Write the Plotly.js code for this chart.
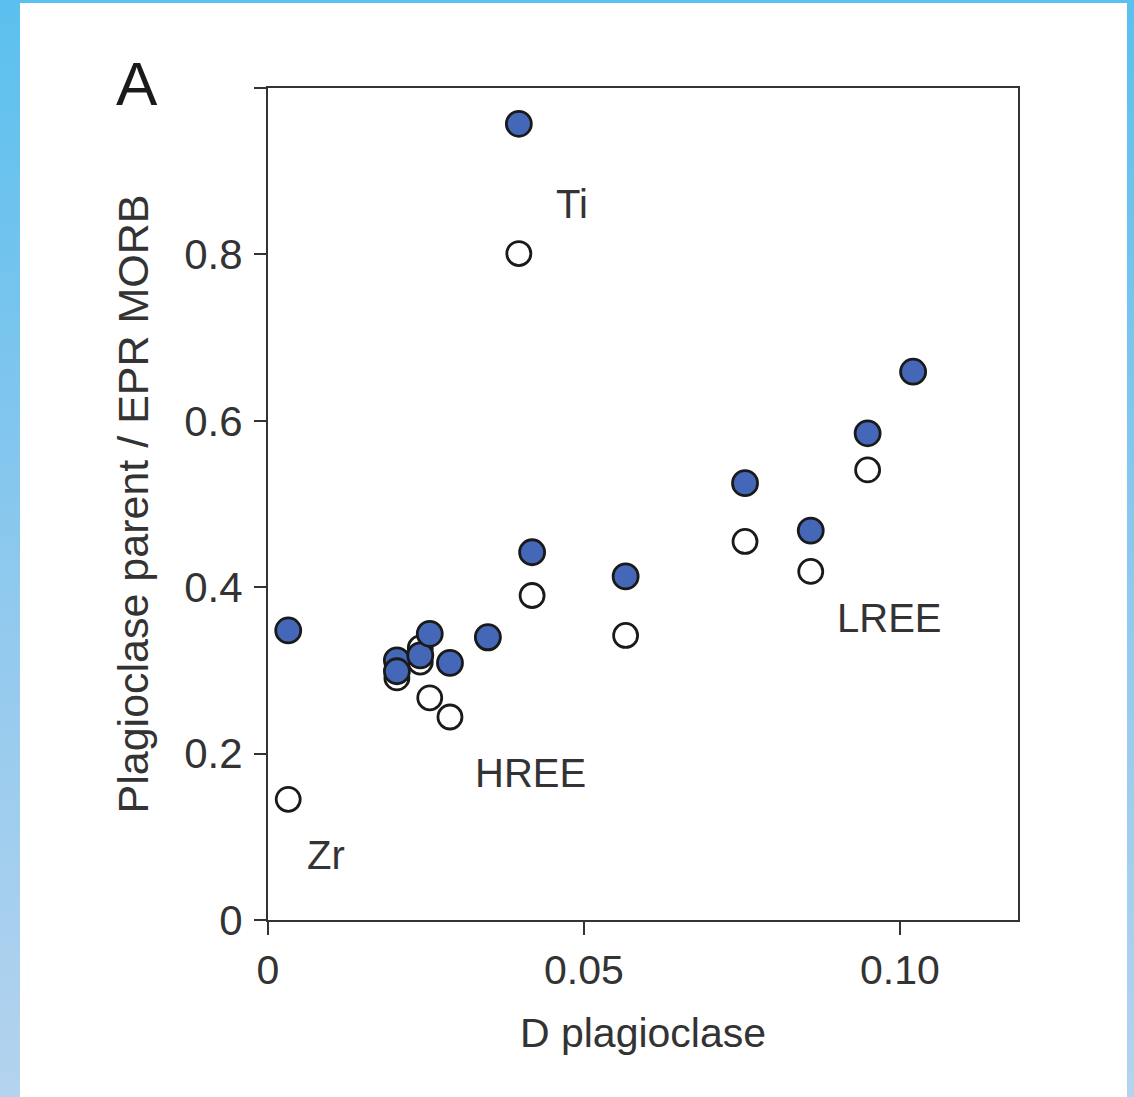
<!DOCTYPE html>
<html>
<head>
<meta charset="utf-8">
<script src="https://cdn.plot.ly/plotly-3.0.1.min.js"></script>
<style>
  html, body { margin:0; padding:0; }
  body { width:1134px; height:1097px; overflow:hidden;
         background: linear-gradient(to bottom, #5bc0ee 0%, #8cc8ee 50%, #b4d3ee 100%); position:relative; }
  #panel { position:absolute; left:20px; top:3px; width:1107px; height:1094px; background:#ffffff; }
  #chart { position:absolute; left:0; top:0; width:1134px; height:1097px; }
</style>
</head>
<body>
<div id="panel"></div>
<div id="chart"></div>
<script>
// Blue (filled) series
const dBlue = [0.0032, 0.0397, 0.0204, 0.0204, 0.0241, 0.0256, 0.0288, 0.0348, 0.0418, 0.0566, 0.0755, 0.0859, 0.0949, 0.1021];
const ratioBlue = [0.348, 0.957, 0.312, 0.299, 0.318, 0.344, 0.309, 0.340, 0.442, 0.413, 0.525, 0.468, 0.585, 0.659];
// Open series
const dOpen = [0.0032, 0.0397, 0.0204, 0.0241, 0.0241, 0.0256, 0.0288, 0.0348, 0.0418, 0.0566, 0.0755, 0.0859, 0.0949, 0.1021];
const ratioOpen = [0.145, 0.801, 0.291, 0.327, 0.310, 0.267, 0.244, 0.339, 0.390, 0.342, 0.455, 0.419, 0.541, 0.659];
// Axis ticks
const xTickVals = [0, 0.05, 0.10];
const xTickText = ['0', '0.05', '0.10'];
const yTickVals = [0, 0.2, 0.4, 0.6, 0.8, 1.0];
const yTickText = ['0', '0.2', '0.4', '0.6', '0.8', ''];
// Group labels
const labelText = ['Ti', 'HREE', 'LREE', 'Zr'];
const labelX = [0.0481, 0.0415, 0.0984, 0.0092];
const labelY = [0.861, 0.177, 0.363, 0.078];

const txt = '#333333';
const fam = 'Liberation Sans, Arial, sans-serif';
const fnt = {family: fam, size: 40, color: txt};

const traces = [
  {x: dOpen, y: ratioOpen, type: 'scatter', mode: 'markers', name: 'open',
   marker: {size: 24, color: '#ffffff', line: {color: '#1a1a1a', width: 2.8}}, cliponaxis: false},
  {x: dBlue, y: ratioBlue, type: 'scatter', mode: 'markers', name: 'filled',
   marker: {size: 25, color: '#4467b7', line: {color: '#1a1a1a', width: 2.8}}, cliponaxis: false}
];

const annotations = labelText.map((t, i) => ({
  x: labelX[i], y: labelY[i], xref: 'x', yref: 'y', text: t, showarrow: false,
  font: fnt, xanchor: 'center', yanchor: 'middle'
}));
annotations.push({x: -0.175, y: 1.005, xref: 'paper', yref: 'paper', text: 'A', showarrow: false,
  font: {family: fam, size: 62, color: '#1a1a1a'}, xanchor: 'center', yanchor: 'middle'});

const layout = {
  width: 1134, height: 1097,
  margin: {l: 268, r: 116, t: 88, b: 177},
  paper_bgcolor: 'rgba(0,0,0,0)', plot_bgcolor: 'rgba(0,0,0,0)',
  showlegend: false,
  font: fnt,
  xaxis: {
    range: [0, 0.1187], tickvals: xTickVals, ticktext: xTickText,
    ticks: 'outside', ticklen: 13, tickwidth: 2, tickcolor: '#333',
    showline: true, linecolor: '#333', linewidth: 2, mirror: true,
    showgrid: false, zeroline: false,
    tickfont: {family: fam, size: 41, color: txt},
    title: {text: 'D plagioclase', font: {family: fam, size: 41, color: txt}, standoff: 26}
  },
  yaxis: {
    range: [0, 1.0], tickvals: yTickVals, ticktext: yTickText,
    ticks: 'outside', ticklen: 12, tickwidth: 2, tickcolor: '#333',
    showline: true, linecolor: '#333', linewidth: 2, mirror: true,
    showgrid: false, zeroline: false,
    ticklabelstandoff: 3,
    tickfont: {family: fam, size: 42, color: txt},
    title: {text: 'Plagioclase parent / EPR MORB', font: {family: fam, size: 43, color: txt}, standoff: 22}
  },
  annotations: annotations
};

Plotly.newPlot('chart', traces, layout, {displayModeBar: false, staticPlot: true});
</script>
</body>
</html>
